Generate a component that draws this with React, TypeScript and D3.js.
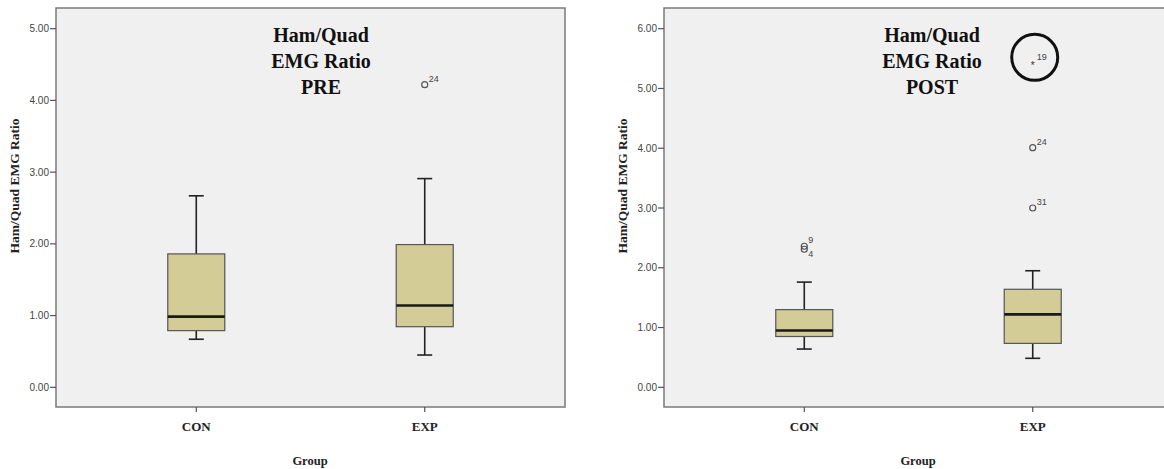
import React from "react";
import * as d3 from "d3";

const groups = ["CON", "EXP"];

// PRE panel stats [CON, EXP]
const preWhiskerLow = [0.67, 0.45];
const preQ1 = [0.79, 0.845];
const preMedian = [0.985, 1.14];
const preQ3 = [1.86, 1.99];
const preWhiskerHigh = [2.67, 2.91];
const preOutliers = [{ group: "EXP", value: 4.22, label: "24", extreme: false }];
const preTicks = [0, 1, 2, 3, 4, 5];

// POST panel stats [CON, EXP]
const postWhiskerLow = [0.64, 0.485];
const postQ1 = [0.85, 0.735];
const postMedian = [0.95, 1.22];
const postQ3 = [1.3, 1.64];
const postWhiskerHigh = [1.76, 1.95];
const postOutliers = [
  { group: "CON", value: 2.36, label: "9", extreme: false },
  { group: "CON", value: 2.31, label: "4", extreme: false },
  { group: "EXP", value: 4.01, label: "24", extreme: false },
  { group: "EXP", value: 3.0, label: "31", extreme: false },
  { group: "EXP", value: 5.42, label: "19", extreme: true },
];
const postTicks = [0, 1, 2, 3, 4, 5, 6];

type Outlier = { group: string; value: number; label: string; extreme: boolean };

const SERIF = "'Liberation Serif', 'Times New Roman', serif";
const SANS = "'Liberation Sans', Arial, sans-serif";

function Panel(props: {
  left: number;
  yMax: number;
  ticks: number[];
  wl: number[];
  q1: number[];
  med: number[];
  q3: number[];
  wh: number[];
  outliers: Outlier[];
  title: string;
  titleX: number;
  groupX: number;
  circle: boolean;
}) {
  const { left, yMax, ticks, wl, q1, med, q3, wh, outliers, title, titleX, groupX, circle } = props;
  const frameW = 509;
  const top = 8;
  const bottom = 407;
  const x = d3.scalePoint<string>().domain(groups).range([left, left + frameW]).padding(0.614);
  const y = d3.scaleLinear().domain([0, yMax]).range([387.3, 28.7]);
  const boxW = 57;
  const capW = 15;
  const fmt = d3.format(".2f");
  return (
    <g>
      <rect x={left} y={top} width={frameW} height={bottom - top} fill="#f0f0f0" stroke="#7a7a7a" strokeWidth={1.5} />
      {ticks.map((t) => (
        <g key={t}>
          <line x1={left - 6} x2={left} y1={y(t)} y2={y(t)} stroke="#555" strokeWidth={1.2} />
          <text x={left - 7} y={y(t)} dy="0.35em" textAnchor="end" fontFamily={SANS} fontSize={10} fill="#444">
            {fmt(t)}
          </text>
        </g>
      ))}
      {groups.map((g, i) => {
        const cx = x(g) as number;
        return (
          <g key={g}>
            <line x1={cx} x2={cx} y1={bottom} y2={bottom + 5} stroke="#555" strokeWidth={1.2} />
            <text x={cx} y={431} textAnchor="middle" fontFamily={SERIF} fontWeight="bold" fontSize={13} fill="#222">
              {g}
            </text>
            <line x1={cx} x2={cx} y1={y(wh[i])} y2={y(q3[i])} stroke="#222" strokeWidth={1.6} />
            <line x1={cx} x2={cx} y1={y(q1[i])} y2={y(wl[i])} stroke="#222" strokeWidth={1.6} />
            <line x1={cx - capW / 2} x2={cx + capW / 2} y1={y(wh[i])} y2={y(wh[i])} stroke="#222" strokeWidth={1.6} />
            <line x1={cx - capW / 2} x2={cx + capW / 2} y1={y(wl[i])} y2={y(wl[i])} stroke="#222" strokeWidth={1.6} />
            <rect
              x={cx - boxW / 2}
              y={y(q3[i])}
              width={boxW}
              height={y(q1[i]) - y(q3[i])}
              fill="#d4cc96"
              stroke="#555"
              strokeWidth={1.2}
            />
            <line x1={cx - boxW / 2} x2={cx + boxW / 2} y1={y(med[i])} y2={y(med[i])} stroke="#1a1a1a" strokeWidth={2.6} />
          </g>
        );
      })}
      {outliers.map((o, k) => {
        const cx = x(o.group) as number;
        const cy = y(o.value);
        const below = o.label === "4";
        return (
          <g key={k}>
            {o.extreme ? (
              <text x={cx} y={cy} dy="0.55em" textAnchor="middle" fontFamily={SANS} fontSize={10} fill="#333">
                *
              </text>
            ) : (
              <circle cx={cx} cy={cy} r={3} fill="none" stroke="#555" strokeWidth={1.2} />
            )}
            <text x={cx + 4} y={below ? cy + 8 : cy - 3} fontFamily={SANS} fontSize={9} fill="#444">
              {o.label}
            </text>
            {o.extreme && circle ? (
              <circle cx={cx + 2} cy={cy - 6} r={23} fill="none" stroke="#111" strokeWidth={3} />
            ) : null}
          </g>
        );
      })}
      <text fontFamily={SERIF} fontWeight="bold" fontSize={20} fill="#111" textAnchor="middle">
        <tspan x={titleX} y={42}>Ham/Quad</tspan>
        <tspan x={titleX} y={68}>EMG Ratio</tspan>
        <tspan x={titleX} y={94}>{title}</tspan>
      </text>
      <text x={groupX} y={465} textAnchor="middle" fontFamily={SERIF} fontWeight="bold" fontSize={12.5} fill="#222">
        Group
      </text>
      <text
        transform={`translate(${left - 37},186) rotate(-90)`}
        textAnchor="middle"
        fontFamily={SERIF}
        fontWeight="bold"
        fontSize={13.5}
        fill="#222"
      >
        Ham/Quad EMG Ratio
      </text>
    </g>
  );
}

export default function App() {
  return (
    <svg width={1164} height={469} style={{ position: "absolute", left: 0, top: 0, background: "#fff" }}>
      <rect x={0} y={0} width={1164} height={469} fill="#fff" />
      <Panel
        left={56}
        yMax={5}
        ticks={preTicks}
        wl={preWhiskerLow}
        q1={preQ1}
        med={preMedian}
        q3={preQ3}
        wh={preWhiskerHigh}
        outliers={preOutliers}
        title="PRE"
        titleX={321}
        groupX={310}
        circle={false}
      />
      <Panel
        left={664}
        yMax={6}
        ticks={postTicks}
        wl={postWhiskerLow}
        q1={postQ1}
        med={postMedian}
        q3={postQ3}
        wh={postWhiskerHigh}
        outliers={postOutliers}
        title="POST"
        titleX={932}
        groupX={918}
        circle={true}
      />
    </svg>
  );
}
